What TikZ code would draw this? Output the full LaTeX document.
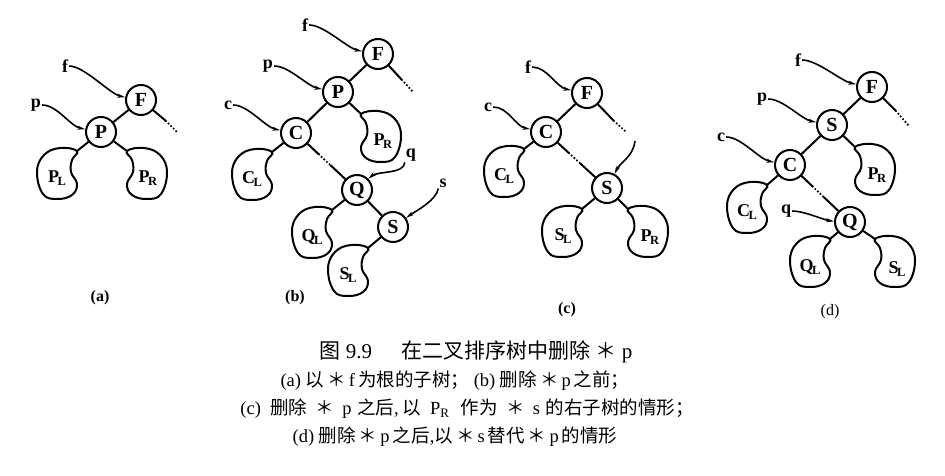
\documentclass[tikz,border=0pt]{standalone}
\usepackage{fontspec}
\setmainfont{Liberation Serif}
\newfontfamily\cjk{Noto Sans CJK SC}
\usetikzlibrary{arrows.meta,calc}
\newcommand\zh[1]{{\cjk #1}}
\newcommand\subl[2]{#1\kern-1.5pt\raisebox{-0.2em}{\fontsize{12.5}{12.5}\selectfont #2}}
\tikzset{
  vtx/.style={circle,draw,line width=2pt,minimum size=30pt,inner sep=0pt,font=\fontsize{20}{20}\selectfont\bfseries},
  lbl/.style={inner sep=1pt,font=\fontsize{18}{18}\selectfont\bfseries},
  blbl/.style={inner sep=0pt,font=\fontsize{18}{18}\selectfont\bfseries},
  edge/.style={line width=2pt},
  dotseg/.style={line width=2.4pt,line cap=round,dash pattern=on 0pt off 3.6pt},
  ptr/.style={line width=1.6pt,-{Stealth[length=8pt,width=4pt]}},
  captxt/.style={inner sep=0pt,font=\fontsize{18.5}{18.5}\selectfont},
  sublbl/.style={inner sep=0pt,font=\fontsize{16}{16}\selectfont\bfseries},
  lblob/.pic={
    \draw[line width=2pt] plot[smooth cycle,tension=0.7] coordinates {(20,-23) (3,-26) (-13,-19) (-20,-2) (-14,20) (0,25) (15,21) (20,10) (14,-2) (15,-14)};
    \coordinate (-a) at (20,-23);
  },
  rblob/.pic={
    \draw[line width=2pt] plot[smooth cycle,tension=0.7] coordinates {(-20,-23) (-3,-26) (13,-19) (20,-2) (14,20) (0,25) (-15,21) (-20,10) (-14,-2) (-15,-14)};
    \coordinate (-a) at (-20,-23);
  },
}
\begin{document}
\begin{tikzpicture}[x=1pt,y=-1pt]
\fill[white] (0,0) rectangle (945,476);
\useasboundingbox (0,0) rectangle (945,476);

% ---------------- (a)
\node[vtx] (aF) at (141,100) {F};
\node[vtx] (aP) at (101,132) {P};
\node[lbl] (af) at (65,66) {f};
\node[lbl] (ap) at (36,105) {p};
\pic (aPL) at (57,174) {lblob};
\pic (aPR) at (147,174) {rblob};
\node[blbl] (aPLt) at (57,178) {\subl{P}{L}};
\node[blbl] (aPRt) at (148,178) {\subl{P}{R}};
\coordinate (aF1) at (166,121);
\coordinate (aF2) at (178,133);
\draw[edge] (aF) -- (aP);
\draw[edge] (aF) -- (aF1);
\draw[dotseg] (aF1) -- (aF2);
\draw[edge] (aP) -- (aPL-a);
\draw[edge] (aP) -- (aPR-a);
\draw[ptr] (af.east) .. controls +(15,0) and +(-15,-3) .. (aF.170);
\draw[ptr] (ap.east) .. controls +(15,0) and +(-15,-3) .. (aP.170);
\node[sublbl] (la) at (100,298) {(a)};

% ---------------- (b)
\node[vtx] (bF) at (378,54) {F};
\node[vtx] (bP) at (338,92) {P};
\node[vtx] (bC) at (296,133) {C};
\node[vtx] (bQ) at (357,190) {Q};
\node[vtx] (bS) at (393,227) {S};
\node[lbl] (bf) at (305,25) {f};
\node[lbl] (bp) at (268,66) {p};
\node[lbl] (bc) at (228,105) {c};
\node[lbl] (bq) at (411,155) {q};
\node[lbl] (bs) at (443,183) {s};
\pic (bCL) at (252,175) {lblob};
\pic (bPR) at (381,137) {rblob};
\pic (bQL) at (312,233) {lblob};
\pic (bSL) at (348,271) {lblob};
\node[blbl] (bCLt) at (252,179) {\subl{C}{L}};
\node[blbl] (bPRt) at (383,141) {\subl{P}{R}};
\node[blbl] (bQLt) at (312,237) {\subl{Q}{L}};
\node[blbl] (bSLt) at (348,275) {\subl{S}{L}};
\coordinate (bF1) at (402,80);
\coordinate (bF2) at (414,93);
\draw[edge] (bF) -- (bP);
\draw[edge] (bF) -- (bF1);
\draw[dotseg] (bF1) -- (bF2);
\draw[edge] (bP) -- (bC);
\draw[edge] (bP) -- (bPR-a);
\draw[edge] (bC) -- (bCL-a);
\path (bC) -- (bQ) coordinate[pos=0.3] (bCQ1) coordinate[pos=0.6] (bCQ2);
\draw[edge] (bC) -- (bCQ1);
\draw[dotseg] (bCQ1) -- (bCQ2);
\draw[edge] (bCQ2) -- (bQ);
\draw[edge] (bQ) -- (bQL-a);
\draw[edge] (bQ) -- (bS);
\draw[edge] (bS) -- (bSL-a);
\draw[ptr] (bf.east) .. controls +(15,0) and +(-15,-3) .. (bF.170);
\draw[ptr] (bp.east) .. controls +(15,0) and +(-15,-3) .. (bP.170);
\draw[ptr] (bc.east) .. controls +(15,0) and +(-15,-3) .. (bC.170);
\draw[ptr] (bq.south west) .. controls +(-1,12) and +(10,-8) .. (bQ.45);
\draw[ptr] (bs.south west) .. controls +(-2,12) and +(10,-7) .. (bS.35);
\node[sublbl] (lb) at (295,298) {(b)};

% ---------------- (c)
\node[vtx] (cF) at (587,93) {F};
\node[vtx] (cC) at (546,132) {C};
\node[vtx] (cS) at (607,188) {S};
\node[lbl] (cf) at (528,67) {f};
\node[lbl] (cc) at (488,107) {c};
\pic (cCL) at (504,172) {lblob};
\pic (cSL) at (562,232) {lblob};
\pic (cPR) at (648,232) {rblob};
\node[blbl] (cCLt) at (504,176) {\subl{C}{L}};
\node[blbl] (cSLt) at (563,236) {\subl{S}{L}};
\node[blbl] (cPRt) at (650,237) {\subl{P}{R}};
\coordinate (cF1) at (614,121);
\coordinate (cF2) at (625,131);
\coordinate (ct) at (635,141);
\draw[edge] (cF) -- (cC);
\draw[edge] (cF) -- (cF1);
\draw[dotseg] (cF1) -- (cF2);
\draw[edge] (cC) -- (cCL-a);
\path (cC) -- (cS) coordinate[pos=0.3] (cCS1) coordinate[pos=0.6] (cCS2);
\draw[edge] (cC) -- (cCS1);
\draw[dotseg] (cCS1) -- (cCS2);
\draw[edge] (cCS2) -- (cS);
\draw[edge] (cS) -- (cSL-a);
\draw[edge] (cS) -- (cPR-a);
\draw[ptr] (cf.east) .. controls +(15,0) and +(-15,-3) .. (cF.170);
\draw[ptr] (cc.east) .. controls +(15,0) and +(-15,-3) .. (cC.170);
\draw[ptr] (ct) .. controls +(-2,16) and +(6,-12) .. (cS.62);
\node[sublbl] (lc) at (567,310) {(c)};

% ---------------- (d)
\node[vtx] (dF) at (872,87) {F};
\node[vtx] (dS) at (832,125) {S};
\node[vtx] (dC) at (790,165) {C};
\node[vtx] (dQ) at (850,222) {Q};
\node[lbl] (df) at (798,60) {f};
\node[lbl] (dp) at (762,99) {p};
\node[lbl] (dc) at (721,137) {c};
\node[lbl] (dq) at (786,211) {q};
\pic (dPR) at (875,170) {rblob};
\pic (dCL) at (747,208) {lblob};
\pic (dQL) at (810,262) {lblob};
\pic (dSL) at (895,262) {rblob};
\node[blbl] (dPRt) at (877,175) {\subl{P}{R}};
\node[blbl] (dCLt) at (747,212) {\subl{C}{L}};
\node[blbl] (dQLt) at (810,267) {\subl{Q}{L}};
\node[blbl] (dSLt) at (897,269) {\subl{S}{L}};
\coordinate (dF1) at (896,111);
\coordinate (dF2) at (909,126);
\draw[edge] (dF) -- (dS);
\draw[edge] (dF) -- (dF1);
\draw[dotseg] (dF1) -- (dF2);
\draw[edge] (dS) -- (dC);
\draw[edge] (dS) -- (dPR-a);
\draw[edge] (dC) -- (dCL-a);
\path (dC) -- (dQ) coordinate[pos=0.3] (dCQ1) coordinate[pos=0.6] (dCQ2);
\draw[edge] (dC) -- (dCQ1);
\draw[dotseg] (dCQ1) -- (dCQ2);
\draw[edge] (dCQ2) -- (dQ);
\draw[edge] (dQ) -- (dQL-a);
\draw[edge] (dQ) -- (dSL-a);
\draw[ptr] (df.east) .. controls +(15,0) and +(-15,-3) .. (dF.170);
\draw[ptr] (dp.east) .. controls +(15,0) and +(-15,-3) .. (dS.170);
\draw[ptr] (dc.east) .. controls +(15,0) and +(-15,-3) .. (dC.170);
\draw[ptr] (dq.east) .. controls +(12,0) and +(-12,-2) .. (dQ.178);
\node[inner sep=0pt,font=\fontsize{16}{16}\selectfont] (ld) at (830,312) {(d)};

% ---------------- caption
\node[captxt,font=\fontsize{21}{21}\selectfont] (cap1) at (476,352) {\zh{图}\ 9.9\hspace{1.4em}\zh{在二叉排序树中删除}\ \zh{＊}\ p};
\node[captxt] (cap2) at (455,381) {(a)\ \zh{以}\,\zh{＊}\,f\,\zh{为根的子树；}\ (b)\ \zh{删除}\,\zh{＊}\,p\,\zh{之前；}};
\node[captxt] (cap3) at (467,409) {(c)\hspace{0.5em}\zh{删除}\hspace{0.45em}\zh{＊}\hspace{0.45em}p\hspace{0.3em}\zh{之后},\hspace{0.2em}\zh{以}\hspace{0.5em}P\textsubscript{R}\hspace{0.6em}\zh{作为}\hspace{0.45em}\zh{＊}\hspace{0.45em}s\hspace{0.3em}\zh{的右子树的情形；}};
\node[captxt] (cap4) at (455,437) {(d)\ \zh{删除}\,\zh{＊}\,p\,\zh{之后},\zh{以}\,\zh{＊}\,s\,\zh{替代}\,\zh{＊}\,p\,\zh{的情形}};
\end{tikzpicture}
\end{document}
